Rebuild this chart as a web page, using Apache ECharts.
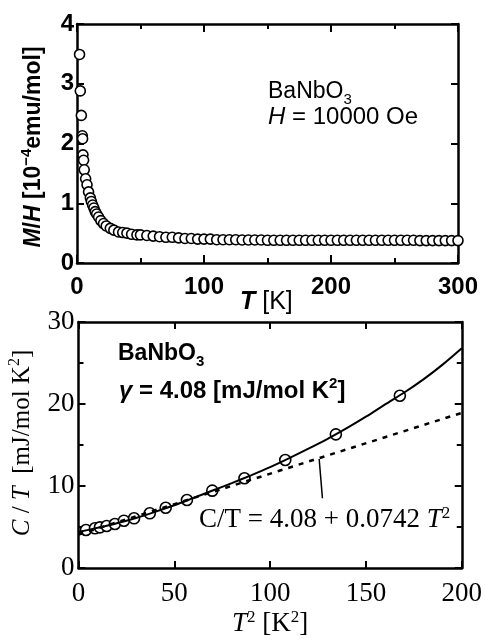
<!DOCTYPE html>
<html>
<head>
<meta charset="utf-8">
<script src="https://cdn.jsdelivr.net/npm/echarts@6/dist/echarts.min.js"></script>
<style>
  html, body { margin: 0; padding: 0; background: #fff; }
  #chart-container { width: 485px; height: 638px; }
</style>
</head>
<body>
<div id="chart-container"></div>
<script>
// M/H vs T (top panel), T in K, M/H in 1e-4 emu/mol
const mhT = [2.0, 2.6, 3.4, 4.2, 4.4, 4.7, 5.2, 5.7, 6.8, 7.9, 9.1, 10.5, 11.3, 12.3, 13.3, 14.4, 15.5, 17, 18.8, 20.9,
  23, 26.2, 29, 32.7, 36, 39.3, 43, 47.2, 50, 55, 60, 65, 70, 75, 80, 85, 90, 95, 100, 105, 110, 115, 120, 125,
  130, 135, 140, 145, 150, 155, 160, 165, 170, 175, 180, 185, 190, 195, 200, 205, 210, 215, 220, 225, 230, 235,
  240, 245, 250, 255, 260, 265, 270, 275, 280, 285, 290, 295, 300];
const mhVal = [3.49, 2.88, 2.47, 2.13, 2.08, 1.81, 1.72, 1.56, 1.41, 1.31, 1.19, 1.09, 1.03, 0.97, 0.92, 0.86, 0.82, 0.77, 0.71, 0.66,
  0.62, 0.58, 0.55, 0.52, 0.51, 0.50, 0.48, 0.47, 0.47, 0.46, 0.45, 0.44, 0.43, 0.43, 0.42, 0.41, 0.41, 0.40, 0.40, 0.40, 0.39, 0.39, 0.39, 0.39,
  0.385, 0.385, 0.385, 0.385, 0.38, 0.38, 0.38, 0.38, 0.38, 0.38, 0.38, 0.38, 0.38, 0.38, 0.38, 0.38, 0.38, 0.38, 0.38, 0.38, 0.38, 0.38,
  0.38, 0.38, 0.38, 0.38, 0.38, 0.38, 0.375, 0.375, 0.375, 0.375, 0.375, 0.375, 0.375];

// C/T vs T^2 (bottom panel)
const ctT2 = [3.9, 8.6, 11.2, 14.7, 19.0, 23.7, 29.0, 37.2, 45.5, 56.6, 69.8, 86.6, 107.9, 134.3, 167.7];
const ctVal = [4.63, 4.84, 4.96, 5.12, 5.37, 5.77, 6.06, 6.67, 7.35, 8.29, 9.43, 10.94, 13.17, 16.30, 21.01];

// solid fit curve
const fitT2 = [0, 10, 20, 30, 40, 50, 60, 70, 80, 90, 100, 110, 120, 130, 140, 150, 160, 170, 180, 190, 200];
const fitVal = [4.4, 4.9, 5.45, 6.1, 6.85, 7.65, 8.55, 9.45, 10.35, 11.3, 12.3, 13.4, 14.55, 15.75, 17.05, 18.45, 19.95, 21.4, 23.0, 24.8, 26.8];

// dashed line C/T = 4.08 + 0.0742 T^2
const linT2 = [0, 200];
const linVal = [4.08, 18.92];

// pointer from dashed line to the formula label
const ptrT2 = [125.6, 127.3];
const ptrVal = [13.3, 8.5];

const zip = (a, b) => a.map((v, i) => [v, b[i]]);

const sans = 'Liberation Sans, Arial, sans-serif';
const serif = 'Liberation Serif, Times New Roman, serif';

function frameAxes(gridIndex, min, max, interval, minorSplit, majorLen, fontObj, isX) {
  const base = {
    type: 'value', gridIndex: gridIndex, min: min, max: max, interval: interval,
    axisLine: { show: true, onZero: false, lineStyle: { color: '#000', width: 2.5 } },
    axisTick: { show: true, inside: true, length: majorLen, lineStyle: { color: '#000', width: 2 } },
    minorTick: { show: minorSplit > 1, splitNumber: minorSplit, length: 5, lineStyle: { color: '#000', width: 2 } },
    splitLine: { show: false },
    minorSplitLine: { show: false }
  };
  const main = Object.assign({}, base, {
    position: isX ? 'bottom' : 'left',
    axisLabel: Object.assign({ color: '#000' }, fontObj)
  });
  const mirror = Object.assign({}, base, {
    position: isX ? 'top' : 'right',
    axisLabel: { show: false }
  });
  return [main, mirror];
}

const topX = frameAxes(0, 0, 300, 100, 2, 8,
  { fontFamily: sans, fontSize: 24, fontWeight: 'bold', margin: 12 }, true);
const topY = frameAxes(0, 0, 4, 1, 1, 7,
  { fontFamily: sans, fontSize: 24, fontWeight: 'bold', margin: 3 }, false);
const botX = frameAxes(1, 0, 200, 50, 1, 7,
  { fontFamily: serif, fontSize: 27, margin: 12 }, true);
const botY = frameAxes(1, 0, 30, 10, 2, 7,
  { fontFamily: serif, fontSize: 27, margin: 4 }, false);

const chart = echarts.init(document.getElementById('chart-container'), null, { renderer: 'canvas' });

const supStyle = (family, size, weight) => ({ fontFamily: family, fontSize: size, fontWeight: weight, fill: '#000', verticalAlign: 'top', lineHeight: 30 });
const subStyle = (family, size, weight) => ({ fontFamily: family, fontSize: size, fontWeight: weight, fill: '#000', verticalAlign: 'bottom', lineHeight: 30 });
const txt = (family, size, weight, italic) => ({ fontFamily: family, fontSize: size, fontWeight: weight, fontStyle: italic ? 'italic' : 'normal', fill: '#000', lineHeight: 30 });

function label(x, y, text, rich, rotate) {
  return {
    type: 'text', x: x, y: y, rotation: rotate || 0,
    style: { text: text, rich: rich, align: rotate ? 'center' : 'left', verticalAlign: 'middle' }
  };
}

chart.setOption({
  animation: false,
  backgroundColor: '#fff',
  grid: [
    { left: 77, top: 24, width: 381, height: 239 },
    { left: 78.5, top: 322, width: 384.5, height: 246 }
  ],
  xAxis: [topX[0], topX[1], botX[0], botX[1]],
  yAxis: [topY[0], topY[1], botY[0], botY[1]],
  series: [
    {
      type: 'scatter', xAxisIndex: 0, yAxisIndex: 0,
      data: zip(mhT, mhVal), symbol: 'circle', symbolSize: 10,
      itemStyle: { color: '#fff', borderColor: '#000', borderWidth: 1.6, opacity: 1 }
    },
    {
      type: 'line', xAxisIndex: 2, yAxisIndex: 2,
      data: zip(linT2, linVal), showSymbol: false, symbol: 'none',
      lineStyle: { color: '#000', width: 2.5, type: [5, 6] }
    },
    {
      type: 'line', xAxisIndex: 2, yAxisIndex: 2,
      data: zip(fitT2, fitVal), showSymbol: false, symbol: 'none', smooth: 0.3,
      lineStyle: { color: '#000', width: 2 }
    },
    {
      type: 'line', xAxisIndex: 2, yAxisIndex: 2,
      data: zip(ptrT2, ptrVal), showSymbol: false, symbol: 'none',
      lineStyle: { color: '#000', width: 1.5 }
    },
    {
      type: 'scatter', xAxisIndex: 2, yAxisIndex: 2,
      data: zip(ctT2, ctVal), symbol: 'circle', symbolSize: 11,
      itemStyle: { color: '#fff', borderColor: '#000', borderWidth: 1.6, opacity: 1 }
    }
  ],
  graphic: [
    // top panel annotations
    label(268, 92, '{n|BaNbO}{sub|3}', { n: txt(sans, 23, 'normal'), sub: subStyle(sans, 15, 'normal') }),
    label(268, 117, '{i|H}{n| = 10000 Oe}', { i: txt(sans, 24, 'normal', true), n: txt(sans, 24, 'normal') }),
    // top axis names
    label(34, 147, '{i|M}{n|/}{i|H}{n| [10}{sup|−4}{n|emu/mol]}', {
      i: txt(sans, 23, 'bold', true), n: txt(sans, 23, 'bold'), sup: supStyle(sans, 15, 'bold')
    }, Math.PI / 2),
    label(240, 302, '{i|T}{n| [K]}', { i: txt(sans, 25, 'bold', true), n: txt(sans, 25, 'normal') }),
    // bottom panel annotations
    label(118, 354, '{n|BaNbO}{sub|3}', { n: txt(sans, 23, 'bold'), sub: subStyle(sans, 15, 'bold') }),
    label(119, 391, '{g|γ}{n| = 4.08 [mJ/mol K}{sup|2}{n|]}', {
      g: txt(sans, 24, 'bold', true), n: txt(sans, 24, 'bold'), sup: supStyle(sans, 15, 'bold')
    }),
    label(199, 520, '{n|C/T = 4.08 + 0.0742 }{i|T}{sup|2}', {
      n: txt(serif, 27, 'normal'), i: txt(serif, 27, 'normal', true), sup: supStyle(serif, 17, 'normal')
    }),
    // bottom axis names
    label(22, 443, '{i|C}{n| / }{i|T}{n|  [mJ/mol K}{sup|2}{n|]}', {
      i: txt(serif, 25, 'normal', true), n: txt(serif, 25, 'normal'), sup: supStyle(serif, 16, 'normal')
    }, Math.PI / 2),
    label(232, 624, '{i|T}{sup|2}{n| [K}{sup|2}{n|]}', {
      i: txt(serif, 27, 'normal', true), n: txt(serif, 27, 'normal'), sup: supStyle(serif, 17, 'normal')
    })
  ]
});
</script>
</body>
</html>
